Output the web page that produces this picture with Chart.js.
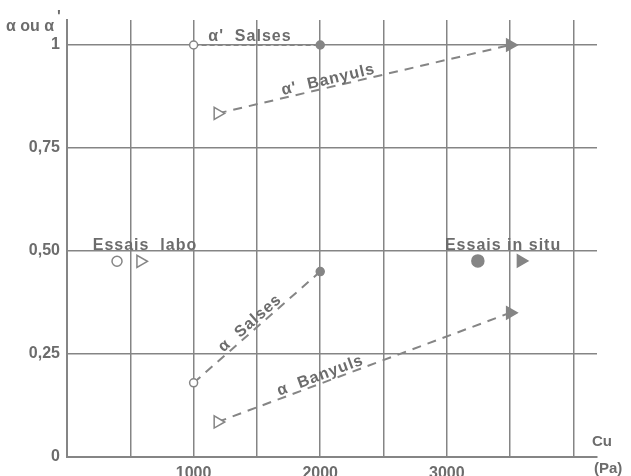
<!DOCTYPE html>
<html>
<head>
<meta charset="utf-8">
<script src="https://cdn.jsdelivr.net/npm/chart.js@4/dist/chart.umd.min.js"></script>
<style>
  body { margin: 0; background: #fff; }
  canvas { display: block; }
</style>
</head>
<body>
<canvas id="myChart" width="631" height="476"></canvas>
<script>
'use strict';
// values (Cu in Pa, alpha without unit)
const cuSalses = [1000, 2000];
const alphaPrimeSalses = [1, 1];
const alphaSalses = [0.18, 0.45];
const cuBanyuls = [1190, 3500];
const alphaPrimeBanyuls = [0.834, 1.0];
const alphaBanyuls = [0.085, 0.35];
const cuLabo = [395, 580];
const alphaLabo = [0.475, 0.475];
const cuInSitu = [3245, 3585];
const alphaInSitu = [0.476, 0.476];

const xTickValues = [0, 500, 1000, 1500, 2000, 2500, 3000, 3500, 4000];
const xTickLabels = ['', '', '1000', '', '2000', '', '3000', '', ''];
const yTickValues = [0, 0.25, 0.5, 0.75, 1];
const yTickLabels = ['0', '0,25', '0,50', '0,75', '1'];

const grey = '#858585';
const textGrey = '#6c6c6c';
const fontFamily = '"Liberation Sans", Arial, sans-serif';

function pts(xs, ys) {
  return xs.map((x, i) => ({ x: x, y: ys[i] }));
}

function dashed(label, data, style, dash, radius) {
  return {
    label: label,
    data: data,
    showLine: true,
    borderColor: grey,
    borderWidth: 2,
    borderDash: dash,
    pointStyle: style,
    rotation: style === 'triangle' ? 90 : 0,
    pointRadius: radius,
    pointBorderWidth: 1.5,
    pointBorderColor: grey,
    pointBackgroundColor: ['#ffffff', grey]
  };
}

function markers(label, data, fill, radius) {
  return {
    label: label,
    data: data,
    showLine: false,
    pointStyle: ['circle', 'triangle'],
    rotation: [0, 90],
    pointRadius: radius,
    pointBorderWidth: 1.5,
    pointBorderColor: grey,
    pointBackgroundColor: fill
  };
}

const datasets = [
  dashed("α' Salses", pts(cuSalses, alphaPrimeSalses), 'circle', [5, 3], 4),
  dashed("α' Banyuls", pts(cuBanyuls, alphaPrimeBanyuls), 'triangle', [9, 7], 7),
  dashed('α Salses', pts(cuSalses, alphaSalses), 'circle', [9, 7], 4),
  dashed('α Banyuls', pts(cuBanyuls, alphaBanyuls), 'triangle', [9, 7], 7),
  markers('Essais labo', pts(cuLabo, alphaLabo), '#ffffff', [5, 7]),
  markers('Essais in situ', pts(cuInSitu, alphaInSitu), grey, [6, 7])
];

// text written on the chart; "along" = follow the line of that dataset
const notes = [
  { text: "α'  Salses", x: 1445, y: 1, dy: -4 },
  { text: "α'  Banyuls", x: 2077, along: 1, dy: -3 },
  { text: 'α  Salses', x: 1485, along: 2, dy: -3 },
  { text: 'α  Banyuls', x: 2022, along: 3, dy: -3 },
  { text: 'Essais  labo', x: 616, y: 0.5, dy: -1 },
  { text: 'Essais in situ', x: 3444, y: 0.5, dy: -1 }
];

const textPlugin = {
  id: 'texts',
  afterDatasetsDraw(chart) {
    const ctx = chart.ctx;
    const xs = chart.scales.x;
    const ys = chart.scales.y;
    const area = chart.chartArea;
    ctx.save();
    ctx.fillStyle = textGrey;
    ctx.font = 'bold 16px ' + fontFamily;
    ctx.letterSpacing = '1px';
    ctx.textAlign = 'center';
    ctx.textBaseline = 'alphabetic';
    notes.forEach(n => {
      let px = xs.getPixelForValue(n.x);
      let py, angle = 0;
      if (n.along !== undefined) {
        const d = chart.getDatasetMeta(n.along).data;
        angle = Math.atan2(d[1].y - d[0].y, d[1].x - d[0].x);
        py = d[0].y + (px - d[0].x) * Math.tan(angle);
      } else {
        py = ys.getPixelForValue(n.y);
      }
      ctx.save();
      ctx.translate(px, py);
      ctx.rotate(angle);
      ctx.fillText(n.text, 0, n.dy);
      ctx.restore();
    });
    // axis titles
    ctx.textAlign = 'left';
    ctx.letterSpacing = '0px';
    ctx.font = 'bold 16px ' + fontFamily;
    ctx.fillText('α ou α', area.left - 61, area.top + 11);
    ctx.fillText("'", area.left - 10, area.top + 2);
    ctx.font = 'bold 15px ' + fontFamily;
    ctx.fillText('Cu', area.right - 5, area.bottom - 11);
    ctx.fillText('(Pa)', area.right - 3, area.bottom + 16);
    ctx.restore();
  }
};

const ctx = document.getElementById('myChart').getContext('2d');
new Chart(ctx, {
  type: 'scatter',
  data: { datasets: datasets },
  options: {
    responsive: false,
    devicePixelRatio: 1,
    animation: false,
    layout: { padding: { top: 20, right: 34, left: 0, bottom: 0 } },
    plugins: { legend: { display: false }, tooltip: { enabled: false } },
    scales: {
      x: {
        type: 'linear',
        min: 0,
        max: 4186,
        afterBuildTicks: axis => { axis.ticks = xTickValues.map(v => ({ value: v })); },
        afterFit: axis => { axis.height = 19; },
        grid: { color: grey, lineWidth: 1.5, drawTicks: false },
        border: { color: grey, width: 2 },
        ticks: {
          padding: 7,
          maxRotation: 0,
          autoSkip: false,
          color: textGrey,
          font: { family: fontFamily, size: 16, weight: 'bold' },
          callback: (v) => xTickLabels[xTickValues.indexOf(v)] || ''
        }
      },
      y: {
        min: 0,
        max: 1.0607,
        afterBuildTicks: axis => { axis.ticks = yTickValues.map(v => ({ value: v })); },
        afterFit: axis => { axis.width = 67; },
        grid: { color: grey, lineWidth: 1.5, drawTicks: false },
        border: { color: grey, width: 2 },
        ticks: {
          padding: 7,
          autoSkip: false,
          color: textGrey,
          font: { family: fontFamily, size: 16, weight: 'bold' },
          callback: (v) => yTickLabels[yTickValues.indexOf(v)]
        }
      }
    }
  },
  plugins: [textPlugin]
});
</script>
</body>
</html>
